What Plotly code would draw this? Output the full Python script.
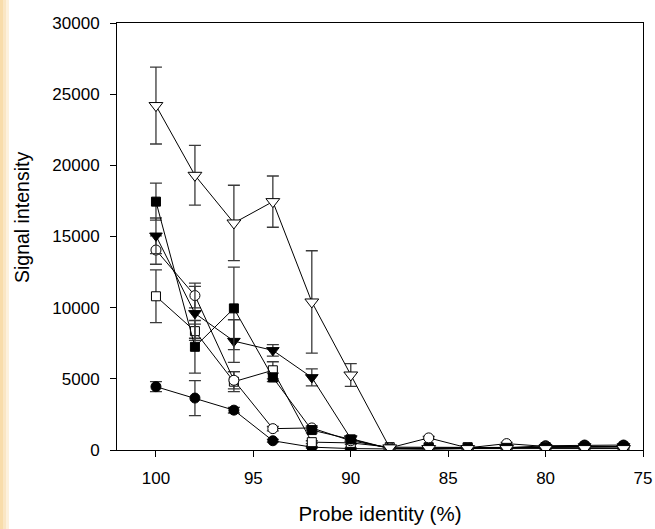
import plotly.graph_objects as go

identity = [100, 98, 96, 94, 92, 90, 88, 86, 84, 82, 80, 78, 76]

tri_open = [24200, 19300, 15950, 17450, 10400, 5270, 150, 100, 100, 100, 100, 100, 100]
tri_open_err = [2700, 2100, 2650, 1800, 3600, 800, 80, 60, 60, 60, 60, 60, 60]

sq_fill = [17450, 7250, 9950, 5100, 1400, 750, 100, 150, 150, 150, 200, 250, 250]
sq_fill_err = [1300, 1850, 2900, 300, 200, 150, 50, 50, 50, 50, 60, 60, 60]

tri_fill = [15050, 9600, 7650, 7000, 5100, 800, 100, 100, 100, 150, 200, 250, 250]
tri_fill_err = [1250, 1900, 1500, 400, 600, 150, 50, 50, 50, 50, 60, 60, 60]

circ_open = [14050, 10850, 4900, 1500, 1550, 650, 150, 850, 150, 450, 250, 250, 250]
circ_open_err = [1000, 870, 600, 150, 150, 100, 50, 100, 50, 80, 60, 60, 60]

sq_open = [10800, 8350, 4800, 5600, 550, 500, 200, 200, 200, 200, 200, 150, 150]
sq_open_err = [1850, 500, 700, 600, 100, 100, 60, 60, 60, 60, 60, 60, 60]

circ_fill = [4450, 3650, 2800, 650, 200, 100, 50, 50, 100, 150, 300, 350, 350]
circ_fill_err = [350, 1230, 200, 100, 60, 50, 40, 40, 40, 50, 60, 60, 60]

x_ticks = [100, 95, 90, 85, 80, 75]
y_ticks = [0, 5000, 10000, 15000, 20000, 25000, 30000]

series = [
    (circ_fill, circ_fill_err, "circle", "black", 10),
    (sq_open, sq_open_err, "square", "white", 9),
    (circ_open, circ_open_err, "circle", "white", 10),
    (tri_fill, tri_fill_err, "triangle-down", "black", 11),
    (sq_fill, sq_fill_err, "square", "black", 9),
    (tri_open, tri_open_err, "triangle-down", "white", 12),
]

fig = go.Figure()
for vals, errs, sym, fill, size in series:
    fig.add_trace(go.Scatter(
        x=identity, y=vals, mode="lines+markers",
        line=dict(color="black", width=1),
        marker=dict(symbol=sym, size=size, color=fill,
                    line=dict(color="black", width=1)),
        error_y=dict(type="data", array=errs, visible=True,
                     color="#3a3a3a", thickness=1.3, width=6),
        showlegend=False,
    ))

# left decorative strip
L, R, T, B = 117, 12, 23, 79
W, H = 655, 529
pw, ph = W - L - R, H - T - B
def px(xp):
    return (xp - L) / pw
def py(yp):
    return (H - B - yp) / ph
for x0, x1, c in [(0, 3, "#F8DCAA"), (3, 6, "#FAE6C4"), (6, 9, "#FDF1DD")]:
    fig.add_shape(type="rect", xref="paper", yref="paper",
                  x0=px(x0), x1=px(x1), y0=-B / ph, y1=1 + T / ph,
                  fillcolor=c, line=dict(width=0), layer="below")

fig.add_annotation(
    text="Signal intensity", textangle=-90, showarrow=False,
    xref="paper", yref="paper", x=px(22), y=py(218),
    xanchor="center", yanchor="middle",
    font=dict(size=19.5, family="Liberation Sans, Arial, sans-serif", color="black"),
)

fig.update_layout(
    width=W, height=H,
    margin=dict(l=L, r=R, t=T, b=B, autoexpand=False),
    paper_bgcolor="white", plot_bgcolor="white",
    font=dict(family="Liberation Sans, Arial, sans-serif", color="black"),
)
fig.update_xaxes(
    range=[102, 75], tickvals=x_ticks, ticks="outside", ticklen=6,
    tickcolor="black", showline=True, linecolor="black", linewidth=1,
    mirror=True, showgrid=False, zeroline=False,
    tickfont=dict(size=17), ticklabelstandoff=7,
    title=dict(text="Probe identity (%)", font=dict(size=20.5), standoff=19),
)
fig.update_yaxes(
    range=[0, 30000], tickvals=y_ticks, tickformat="d", ticks="outside",
    ticklen=6, tickcolor="black", showline=True, linecolor="black",
    linewidth=1, mirror=True, showgrid=False, zeroline=False,
    tickfont=dict(size=17), ticklabelstandoff=7,
)

fig.write_html("out.html", config={"displayModeBar": False},
               post_script="document.body.style.margin='0';document.body.style.padding='0';")
